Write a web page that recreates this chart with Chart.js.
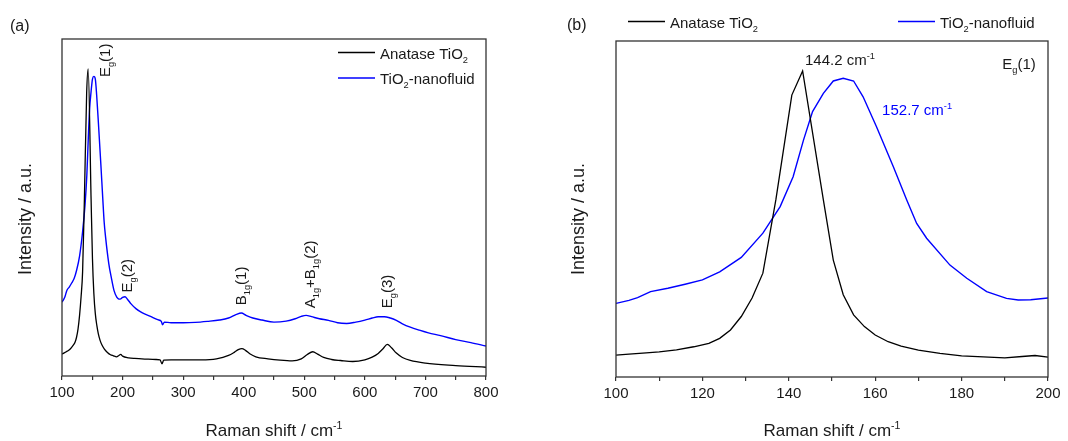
<!DOCTYPE html>
<html><head><meta charset="utf-8">
<script src="https://cdn.jsdelivr.net/npm/chart.js@4.4.0/dist/chart.umd.min.js"></script>
<style>
html,body{margin:0;padding:0;background:#fff;}
#wrap{position:relative;width:1068px;height:441px;overflow:hidden;}
#ca{position:absolute;left:0;top:0;}
#cb{position:absolute;left:540px;top:0;}
</style></head><body>
<div id="wrap"><canvas id="ca" width="540" height="441"></canvas><canvas id="cb" width="528" height="441"></canvas></div>
<script>
// ---------- Panel (a): full spectrum ----------
const aAnataseShift = [100,103,107,110,114,118,121.5,124,126.5,129,131.5,134,137,140.7,143.2,148,150.3,152.6,155,157.5,160,163,166,170,175,180,185,190,194,197,200,210,220,240,255,262,265,268,280,300,330,355,375,385,391,397,403,410,420,440,460,480,495,505,514,522,532,545,560,580,600,612,622,630,637,644,652,662,675,700,750,800];
const aAnataseInt   = [.065,.068,.072,.075,.081,.090,.100,.115,.140,.180,.235,.309,.527,.839,.911,.527,.348,.245,.185,.150,.125,.105,.092,.080,.070,.063,.060,.057,.061,.064,.059,.054,.052,.050,.049,.048,.036,.047,.048,.048,.048,.051,.061,.071,.078,.081,.076,.066,.057,.051,.047,.045,.051,.064,.072,.065,.055,.049,.046,.043,.048,.056,.067,.081,.094,.084,.068,.055,.046,.038,.031,.026];
const aFluidShift   = [100,103,105,108,112,116,120,124,129,134,138,141,143.4,145.5,148,150.3,152.6,155,157.2,160.3,164.2,167.3,169.6,171.9,177.3,181.2,185.8,190.4,193.1,196,200,204,208,214,222,232,245,258,264,266,269,280,300,320,340,360,375,388,396,404,415,430,450,470,485,495,503,512,525,540,555,570,585,600,612,622,632,642,652,662,675,690,705,725,750,775,800];
const aFluidInt     = [.219,.228,.236,.254,.264,.276,.289,.313,.356,.428,.507,.596,.705,.790,.844,.881,.889,.881,.834,.745,.626,.527,.457,.413,.333,.294,.254,.234,.229,.228,.233,.235,.228,.214,.200,.188,.178,.167,.162,.152,.160,.158,.158,.159,.162,.166,.172,.183,.187,.180,.172,.166,.160,.163,.170,.177,.180,.176,.170,.165,.158,.156,.160,.166,.172,.176,.176,.172,.165,.155,.145,.136,.128,.120,.108,.099,.089];

// ---------- Panel (b): Eg(1) zoom ----------
const bAnataseShift = [100,103,107,110,114,118,121.5,124,126.5,129,131.5,134,137,140.7,143.2,148,150.3,152.6,155,157.5,160,163,166,170,175,180,185,190,194,197,200];
const bAnataseInt   = [.065,.068,.072,.075,.081,.090,.100,.115,.140,.180,.235,.309,.527,.839,.911,.527,.348,.245,.185,.150,.125,.105,.092,.080,.070,.063,.060,.057,.061,.064,.059];
const bFluidShift   = [100,103,105,108,112,116,120,124,129,134,138,141,143.4,145.5,148,150.3,152.6,155,157.2,160.3,164.2,167.3,169.6,171.9,177.3,181.2,185.8,190.4,193.1,196,200];
const bFluidInt     = [.219,.228,.236,.254,.264,.276,.289,.313,.356,.428,.507,.596,.705,.790,.844,.881,.889,.881,.834,.745,.626,.527,.457,.413,.333,.294,.254,.234,.229,.230,.235];

// ---------- Text ----------
const seriesNames = ['Anatase TiO2', 'TiO2-nanofluid'];
const xTitle = [['Raman shift / cm'], ['-1', 2]];
const yTitle = [['Intensity / a.u.']];
// peak-assignment labels of panel (a): [shift, intensity, rich text]
const aPeakLabels = [
  [179, 0.887, [['E'], ['g', 1], ['(1)']]],
  [215.6, 0.248, [['E'], ['g', 1], ['(2)']]],
  [404, 0.210, [['B'], ['1g', 1], ['(1)']]],
  [517.7, 0.201, [['A'], ['1g', 1], ['+B'], ['1g', 1], ['(2)']]],
  [644.8, 0.201, [['E'], ['g', 1], ['(3)']]]
];
// labels of panel (b): [shift, intensity, rich text, colour index]
const bPeakLabels = [
  [143.75, 0.929, [['144.2 cm'], ['-1', 2]], 0],
  [161.6, 0.780, [['152.7 cm'], ['-1', 2]], 1],
  [189.4, 0.917, [['E'], ['g', 1], ['(1)']], 0]
];

const FONT = '"Liberation Sans", Arial, Helvetica, sans-serif';
const COLORS = ['#000000', '#0000ff'];
const TXT = '#1a1a1a';

function zip(xs, ys) { return xs.map((x, i) => ({ x: x, y: ys[i] })); }

function richParts(name) {
  const out = [];
  const i = name.indexOf('TiO2');
  if (i < 0) return [[name]];
  if (i > 0) out.push([name.slice(0, i)]);
  out.push(['TiO']); out.push(['2', 1]);
  const rest = name.slice(i + 4);
  if (rest) out.push([rest]);
  return out;
}

function measureRich(ctx, parts, size) {
  let w = 0;
  for (const p of parts) {
    const fs = p[1] ? size * 0.62 : size;
    ctx.font = fs + 'px ' + FONT;
    w += ctx.measureText(p[0]).width;
  }
  return w;
}
function drawRich(ctx, x, y, parts, size, color, rot) {
  ctx.save();
  ctx.translate(x, y);
  if (rot) ctx.rotate(-Math.PI / 2);
  ctx.fillStyle = color;
  ctx.textBaseline = 'alphabetic';
  ctx.textAlign = 'left';
  let cx = 0;
  for (const p of parts) {
    const m = p[1] || 0;
    const fs = m ? size * 0.62 : size;
    const dy = m === 1 ? size * 0.27 : (m === 2 ? -size * 0.40 : 0);
    ctx.font = fs + 'px ' + FONT;
    ctx.fillText(p[0], cx, dy);
    cx += ctx.measureText(p[0]).width;
  }
  ctx.restore();
  return cx;
}

const decorPlugin = {
  id: 'decor',
  afterDraw(chart) {
    const o = chart.options.plugins.decor;
    const ctx = chart.ctx;
    const a = chart.chartArea;
    const xs = chart.scales.x, ys = chart.scales.y;
    ctx.save();
    // frame
    ctx.strokeStyle = '#333';
    ctx.lineWidth = 1.3;
    ctx.strokeRect(a.left, a.top, a.right - a.left, a.bottom - a.top);
    // panel tag
    ctx.font = '16px ' + FONT;
    ctx.fillStyle = TXT;
    ctx.textBaseline = 'alphabetic';
    ctx.fillText(o.tag, o.tagPos[0], o.tagPos[1]);
    // axis titles
    const wx = measureRich(ctx, xTitle, 17);
    drawRich(ctx, (a.left + a.right) / 2 - wx / 2, 436, xTitle, 17, TXT, false);
    const wy = measureRich(ctx, yTitle, 18);
    drawRich(ctx, o.yTitleX, 219 + wy / 2, yTitle, 18, TXT, true);
    // legend
    chart.data.datasets.forEach((ds, i) => {
      const L = o.legend[i];
      ctx.strokeStyle = ds.borderColor;
      ctx.lineWidth = 1.3;
      ctx.beginPath(); ctx.moveTo(L[0], L[1]); ctx.lineTo(L[0] + 37, L[1]); ctx.stroke();
      drawRich(ctx, L[0] + 42, L[1] + 6, richParts(ds.label), 15, TXT, false);
    });
    // peak labels
    for (const lb of o.labels) {
      const px = xs.getPixelForValue(lb[0]);
      const py = ys.getPixelForValue(lb[1]);
      drawRich(ctx, px, py, lb[2], 15, lb[3] === 1 ? COLORS[1] : TXT, o.rotLabels);
    }
    ctx.restore();
  }
};

function makeChart(id, cfg) {
  return new Chart(document.getElementById(id), {
    type: 'line',
    data: {
      datasets: [
        { label: seriesNames[0], data: zip(cfg.s0x, cfg.s0y), borderColor: COLORS[0], borderWidth: 1.3,
          pointRadius: 0, fill: false, cubicInterpolationMode: cfg.smooth ? 'monotone' : 'default', tension: 0 },
        { label: seriesNames[1], data: zip(cfg.s1x, cfg.s1y), borderColor: COLORS[1], borderWidth: 1.4,
          pointRadius: 0, fill: false, cubicInterpolationMode: cfg.smooth ? 'monotone' : 'default', tension: 0 }
      ]
    },
    options: {
      responsive: false,
      animation: false,
      events: [],
      layout: { padding: cfg.padding },
      scales: {
        x: {
          type: 'linear', min: cfg.xmin, max: cfg.xmax,
          afterFit: (s) => { s.height = cfg.xh; },
          border: { display: false },
          grid: { display: true, drawOnChartArea: false, drawTicks: true, tickLength: 4, color: '#333', lineWidth: 1.2 },
          ticks: {
            stepSize: cfg.step, autoSkip: false, maxRotation: 0, padding: 4,
            color: TXT, font: { family: FONT, size: 15 },
            callback: (v) => (v % cfg.labelStep === 0 ? String(v) : '')
          }
        },
        y: { type: 'linear', min: 0, max: 1, display: false }
      },
      plugins: {
        legend: { display: false },
        tooltip: { enabled: false },
        decor: cfg.decor
      }
    },
    plugins: [decorPlugin]
  });
}

makeChart('ca', {
  s0x: aAnataseShift, s0y: aAnataseInt, s1x: aFluidShift, s1y: aFluidInt, smooth: true,
  xmin: 100, xmax: 800, step: 50, labelStep: 100,
  padding: { left: 62, right: 54, top: 39, bottom: 0 }, xh: 65,
  decor: { tag: '(a)', tagPos: [10, 31], yTitleX: 31, legend: [[338, 52.5], [338, 78]], labels: aPeakLabels, rotLabels: true }
});
makeChart('cb', {
  s0x: bAnataseShift, s0y: bAnataseInt, s1x: bFluidShift, s1y: bFluidInt, smooth: false,
  xmin: 100, xmax: 200, step: 10, labelStep: 20,
  padding: { left: 76, right: 20, top: 41, bottom: 0 }, xh: 64,
  decor: { tag: '(b)', tagPos: [27, 30], yTitleX: 44, legend: [[88, 21.5], [358, 21.5]], labels: bPeakLabels, rotLabels: false }
});
</script>
</body></html>
